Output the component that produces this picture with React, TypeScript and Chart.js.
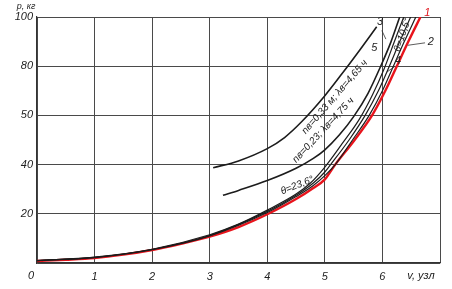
import React, { useEffect, useRef } from "react";
import { Chart, registerables } from "chart.js";

Chart.register(...registerables);

// Axis ticks
const xTickValues = [0, 1, 2, 3, 4, 5, 6];
const yTickValues = [0, 20, 40, 60, 80, 100];
const yTickLabels = ["", "20", "40", "50", "80", "100"];

// Curve 1 (red)
const v1 = [0, 0.5, 1, 1.5, 2, 2.5, 3, 3.5, 4, 4.5, 4.8, 5, 5.18, 5.5, 5.82, 6.05, 6.25, 6.45, 6.66];
const p1 = [0.8, 1.3, 2, 3.4, 5.3, 7.8, 10.7, 14.6, 19.8, 26, 30.5, 34, 40, 49.5, 60, 70, 80, 90, 100];

// Curve 2
const v2 = [0, 1, 2, 3, 4, 4.5, 4.8, 5, 5.18, 5.48, 5.77, 6, 6.19, 6.38, 6.58];
const p2 = [1, 2.2, 5.4, 11, 20.5, 27, 31.5, 35.5, 40, 50, 60, 70, 80, 90, 100];

// Curve θ = 10.5°
const vT10 = [0, 1, 2, 3, 4, 4.5, 4.8, 5, 5.1, 5.42, 5.7, 5.93, 6.12, 6.3, 6.49];
const pT10 = [1, 2.3, 5.5, 11.2, 21, 27.5, 32.5, 37, 40, 50, 60, 70, 80, 90, 100];

// Curve 4 (θ = 23.6°)
const v4 = [0, 1, 2, 3, 3.5, 4, 4.5, 4.75, 5, 5.3, 5.6, 5.83, 6.03, 6.2, 6.37];
const p4 = [1, 2.4, 5.6, 11.5, 15.8, 21.5, 28, 32.5, 39, 48.5, 58.5, 68.5, 79, 89.5, 100];

// Curve 3 (nв = 0,23)
const v3 = [3.23, 3.5, 4, 4.5, 4.8, 5, 5.25, 5.5, 5.75, 5.97, 6.15, 6.3];
const p3 = [27.5, 29.5, 33.5, 38.5, 42.5, 46, 52, 59.5, 69, 80, 90, 100];

// Curve 5 (nв = 0,33)
const v5 = [3.06, 3.5, 4, 4.3, 4.6, 5, 5.3, 5.62, 5.9];
const p5 = [38.7, 41.5, 46.5, 51, 57.5, 68, 77, 87, 96];

// Annotations (data coordinates)
const noteTexts = ["nв=0,33 м; λв=4,65 ч", "nв=0,23; λв=4,75 ч", "θ=23,6°", "θ=10,5°", "1", "2", "3", "4", "5"];
const noteV = [5.17, 4.97, 4.52, 6.35, 6.78, 6.84, 5.96, 6.27, 5.86];
const noteP = [67.5, 54, 31.5, 92.7, 101.8, 90, 98, 82, 87.5];
const noteRot = [-49, -47, -22, -72, 0, 0, 0, 0, 0];
const noteColor = ["#222", "#222", "#222", "#222", "#e0141c", "#222", "#222", "#222", "#222"];

const leaderFromV = [6.74, 5.99, 6.22];
const leaderFromP = [89.5, 94.5, 80];
const leaderToV = [6.44, 6.06, 6.07];
const leaderToP = [88.5, 91, 77.5];

const toXY = (vs: number[], ps: number[]) => vs.map((v, i) => ({ x: v, y: ps[i] }));

const FONT = "'Liberation Sans', Arial, sans-serif";

export default function App() {
  const ref = useRef<HTMLCanvasElement | null>(null);

  useEffect(() => {
    document.body.style.margin = "0";
    const canvas = ref.current;
    if (!canvas) return;

    const notesPlugin = {
      id: "notes",
      afterDatasetsDraw(chart: any) {
        const ctx = chart.ctx;
        const xs = chart.scales.x;
        const ys = chart.scales.y;
        ctx.save();
        ctx.strokeStyle = "#333";
        ctx.lineWidth = 0.8;
        for (let i = 0; i < leaderFromV.length; i++) {
          ctx.beginPath();
          ctx.moveTo(xs.getPixelForValue(leaderFromV[i]), ys.getPixelForValue(leaderFromP[i]));
          ctx.lineTo(xs.getPixelForValue(leaderToV[i]), ys.getPixelForValue(leaderToP[i]));
          ctx.stroke();
        }
        ctx.textAlign = "center";
        ctx.textBaseline = "middle";
        for (let i = 0; i < noteTexts.length; i++) {
          ctx.save();
          ctx.translate(xs.getPixelForValue(noteV[i]), ys.getPixelForValue(noteP[i]));
          ctx.rotate((noteRot[i] * Math.PI) / 180);
          ctx.fillStyle = noteColor[i];
          ctx.font = (i < 4 ? "italic 10px " : "italic 11px ") + FONT;
          ctx.fillText(noteTexts[i], 0, 0);
          ctx.restore();
        }
        ctx.fillStyle = "#222";
        ctx.font = "italic 9px " + FONT;
        ctx.textAlign = "center";
        ctx.fillText("p, кг", xs.left - 11, ys.top - 11);
        ctx.font = "italic 11px " + FONT;
        ctx.fillText("v, узл", xs.getPixelForValue(6.67), ys.bottom + 13);
        ctx.fillText("0", xs.left - 6, ys.bottom + 13);
        ctx.restore();
      },
    };

    const black = "#1c1c1c";
    const mk = (vs: number[], ps: number[], color: string, w: number) => ({
      data: toXY(vs, ps),
      borderColor: color,
      borderWidth: w,
      pointRadius: 0,
      fill: false,
      cubicInterpolationMode: "monotone" as const,
    });

    const chart = new Chart(canvas, {
      type: "line",
      data: {
        datasets: [
          mk(v5, p5, black, 1.6),
          mk(v3, p3, black, 1.6),
          mk(v4, p4, black, 1.2),
          mk(vT10, pT10, black, 1.2),
          mk(v2, p2, black, 1.2),
          mk(v1, p1, "#e8141c", 2.4),
        ],
      },
      options: {
        animation: false,
        responsive: false,
        maintainAspectRatio: false,
        layout: { padding: { top: 17, right: 12, left: 0, bottom: 0 } },
        plugins: { legend: { display: false }, tooltip: { enabled: false } },
        scales: {
          x: {
            type: "linear",
            min: 0,
            max: 7,
            afterBuildTicks: (s: any) => {
              s.ticks = [...xTickValues, 7].map((v) => ({ value: v }));
            },
            afterFit: (s: any) => {
              s.height = 26;
            },
            ticks: {
              autoSkip: false,
              maxRotation: 0,
              padding: 7,
              color: "#222",
              font: { family: FONT, size: 11, style: "italic" },
              callback: (v: any) => (v >= 1 && v <= 6 ? String(v) : ""),
            },
            grid: { color: "#4a4a4a", lineWidth: 1, drawTicks: false },
            border: { color: "#333", width: 1.2 },
          },
          y: {
            min: 0,
            max: 100,
            afterBuildTicks: (s: any) => {
              s.ticks = yTickValues.map((v) => ({ value: v }));
            },
            afterFit: (s: any) => {
              s.width = 37;
            },
            ticks: {
              padding: 4,
              color: "#222",
              font: { family: FONT, size: 11, style: "italic" },
              callback: (v: any) => {
                const i = yTickValues.indexOf(Number(v));
                return i >= 0 ? yTickLabels[i] : "";
              },
            },
            grid: { color: "#4a4a4a", lineWidth: 1, drawTicks: false },
            border: { color: "#333", width: 1.2 },
          },
        },
      },
      plugins: [notesPlugin],
    });

    return () => chart.destroy();
  }, []);

  return (
    <div style={{ width: 452, height: 289, background: "#fff" }}>
      <canvas ref={ref} width={452} height={289} style={{ display: "block" }} />
    </div>
  );
}
